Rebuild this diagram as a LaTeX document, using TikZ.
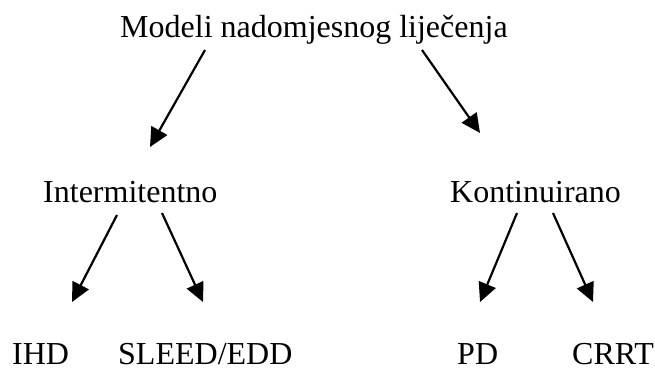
\documentclass[tikz,border=0pt]{standalone}
\usepackage{fontspec}
\setmainfont{Liberation Serif}
\usetikzlibrary{arrows.meta}

\begin{document}
\begin{tikzpicture}[x=1pt, y=-1pt,
      naziv/.style = {inner sep=0pt, anchor=base west,
        font=\fontsize{32}{38}\selectfont},
      strelica/.style = {line width=2.2pt,
        -{Triangle[length=19pt,width=18pt]}}]
  \useasboundingbox (0,0) rectangle (655,367);
  \node[naziv] (modeli) at (120,37) {Modeli nadomjesnog liječenja};
  \node[naziv] (inter) at (43,202) {Intermitentno};
  \node[naziv] (kont) at (450,202) {Kontinuirano};
  \node[naziv] (ihd) at (12,364) {IHD};
  \node[naziv] (sleed) at (118,364) {SLEED/EDD};
  \node[naziv] (pd) at (457,364) {PD};
  \node[naziv] (crrt) at (572,364) {CRRT};
  % krajevi strelica
  \coordinate (m1) at (205,50);   \coordinate (i0) at (150,147);
  \coordinate (m2) at (422,50);   \coordinate (k0) at (480,133);
  \coordinate (i1) at (117,215);  \coordinate (ihd0) at (72,302);
  \coordinate (i2) at (162,213);  \coordinate (sl0) at (203,302);
  \coordinate (k1) at (517,213);  \coordinate (pd0) at (480,302);
  \coordinate (k2) at (553,213);  \coordinate (cr0) at (593,302);
  \draw[strelica] (m1) -- (i0);
  \draw[strelica] (m2) -- (k0);
  \draw[strelica] (i1) -- (ihd0);
  \draw[strelica] (i2) -- (sl0);
  \draw[strelica] (k1) -- (pd0);
  \draw[strelica] (k2) -- (cr0);
\end{tikzpicture}
\end{document}
